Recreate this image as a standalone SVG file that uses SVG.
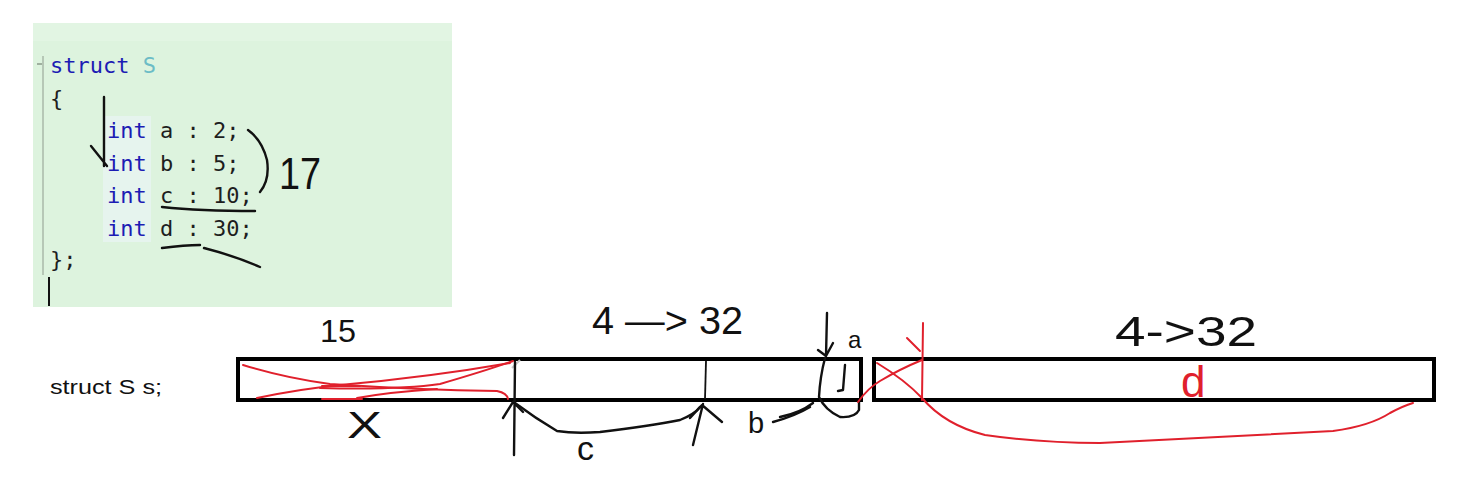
<svg xmlns="http://www.w3.org/2000/svg" width="1476" height="492" viewBox="0 0 1476 492">
<style>
.code{font-family:"DejaVu Sans Mono","Liberation Mono",monospace;font-size:22px;fill:#1e1e1e}
.kw{fill:#1c1cb4}
.ty{fill:#6cbcc6}
.hand{font-family:"Liberation Sans","DejaVu Sans",sans-serif;fill:#111}
.ink{fill:none;stroke:#111;stroke-width:2.4;stroke-linecap:round;stroke-linejoin:round}
.red{fill:none;stroke:#e0202c;stroke-width:2;stroke-linecap:round;stroke-linejoin:round}
.box{fill:#fff;stroke:#000;stroke-width:4}
</style>
<rect width="1476" height="492" fill="#fff"/>

<g id="code-panel">
  <rect x="33" y="23" width="419" height="284" fill="#ddf3de"/>
  <rect x="33" y="23" width="419" height="18" fill="#e2f5e3"/>
  <rect x="103" y="116" width="48" height="126" fill="#e6f4ee"/>
  <line x1="43" y1="56" x2="43" y2="275" stroke="#a8b8a8" stroke-width="1.5"/>
  <line x1="37" y1="64" x2="42" y2="64" stroke="#8a9a8a" stroke-width="1.5"/>
  <line x1="49" y1="277" x2="49" y2="306" stroke="#111" stroke-width="2"/>
  <text class="code" x="50" y="73"><tspan class="kw">struct</tspan> <tspan class="ty">S</tspan></text>
  <text class="code" x="50" y="106">{</text>
  <text class="code" x="107" y="138"><tspan class="kw">int</tspan> a : 2;</text>
  <text class="code" x="107" y="171"><tspan class="kw">int</tspan> b : 5;</text>
  <text class="code" x="107" y="203"><tspan class="kw">int</tspan> c : 10;</text>
  <text class="code" x="107" y="236"><tspan class="kw">int</tspan> d : 30;</text>
  <text class="code" x="50" y="267">};</text>
</g>

<g id="code-notes">
  <path class="ink" d="M104 97 L104 166 M91 146 L107 166"/>
  <path class="ink" d="M248 130 Q262 140 267 160 Q270 180 260 192"/>
  <text class="hand" x="279" y="189" font-size="44" textLength="42" lengthAdjust="spacingAndGlyphs">17</text>
  <path class="ink" d="M162 207 Q200 211 255 211"/>
  <path class="ink" d="M162 248 Q185 245 200 245 M204 248 Q235 256 260 267"/>
</g>

<g id="declaration">
  <text class="hand" x="50" y="394" font-size="20" textLength="112" lengthAdjust="spacingAndGlyphs">struct S s;</text>
</g>

<g id="memory-1">
  <rect class="box" x="238" y="359" width="623" height="41"/>
  <line x1="706" y1="361" x2="705" y2="399" stroke="#111" stroke-width="1.8"/>
  <path class="ink" d="M845 365 L843 390 L838 391" stroke-width="2"/>
  <text class="hand" x="320" y="342" font-size="32" textLength="36" lengthAdjust="spacingAndGlyphs">15</text>
  <text class="hand" x="592" y="334" font-size="38" textLength="151" lengthAdjust="spacingAndGlyphs">4 —&gt; 32</text>
  <text class="hand" x="848" y="348" font-size="24">a</text>
</g>

<g id="memory-2">
  <rect class="box" x="874" y="359" width="560" height="41"/>
  <text class="hand" x="1115" y="346" font-size="42" textLength="142" lengthAdjust="spacingAndGlyphs">4-&gt;32</text>
  <text class="hand" x="1181" y="397" font-size="44" style="fill:#e0202c">d</text>
</g>

<g id="crossed-out">
  <path class="red" d="M243 365 Q285 378 330 384 Q420 390 497 391 Q507 393 508 399"/>
  <path class="red" d="M257 398 Q300 389 340 385 Q430 377 510 363"/>
  <path class="red" d="M320 388 Q400 390 440 384 Q485 371 513 361"/>
  <path class="red" d="M357 398 Q390 392 437 389"/>
  <path class="red" d="M322 386 L360 386" stroke-width="4"/>
  <path class="red" d="M322 399 L362 399" stroke-width="3"/>
  <line x1="512" y1="368" x2="520" y2="360" stroke="#c8c8c8" stroke-width="2"/>
  <text class="hand" x="347" y="438" font-size="36" textLength="35" lengthAdjust="spacingAndGlyphs">X</text>
</g>

<g id="connectors">
  <path class="ink" d="M515 362 L514 455 M503 418 L513 402 L523 412"/>
  <path class="ink" d="M515 403 Q535 418 557 431 Q575 434 600 432 Q650 426 680 420 Q695 414 700 407"/>
  <text class="hand" x="577" y="460" font-size="34">c</text>
  <path class="ink" d="M693 445 L703 404 M690 418 L702 405 L722 422"/>
  <text class="hand" x="748" y="433" font-size="29">b</text>
  <path class="ink" d="M773 422 Q795 416 810 407"/>
  <path class="ink" d="M827 313 L826 356 M818 350 L826 356 L833 343"/>
  <path class="ink" d="M825 358 Q820 377 819 397 Q825 410 840 417 Q855 418 859 410 L859 401"/>
  <path class="ink" d="M780 417 Q800 413 813 403"/>
  <path class="red" d="M923 323 L922 400 M907 338 L920 351"/>
  <path class="red" d="M877 363 Q905 380 922 398 Q945 425 985 435 Q1040 443 1100 443 Q1220 437 1333 431 Q1370 426 1390 413 Q1403 406 1413 403"/>
  <path class="red" d="M858 402 Q868 388 880 381 Q900 369 922 360"/>
</g>
</svg>
